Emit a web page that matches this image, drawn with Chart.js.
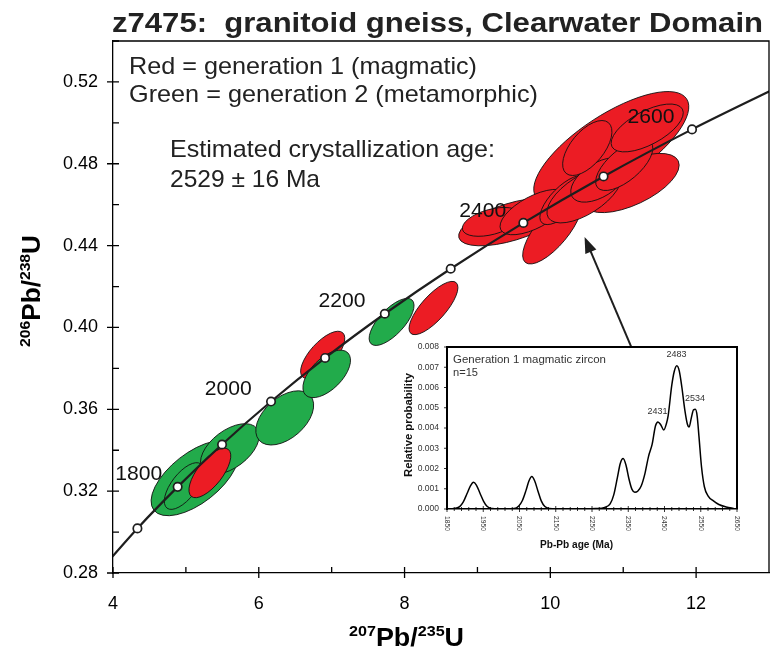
<!DOCTYPE html>
<html>
<head>
<meta charset="utf-8">
<script src="https://cdn.jsdelivr.net/npm/chart.js@4.4.1/dist/chart.umd.min.js"></script>
<style>
  html, body { margin: 0; padding: 0; background: #fff; }
  #wrap { position: relative; width: 772px; height: 650px; }
  #main { position: absolute; left: 0; top: 0; }
  #inset { position: absolute; left: 398px; top: 340px; }
</style>
</head>
<body>
<div id="wrap">
  <canvas id="main" width="772" height="650"></canvas>
  <canvas id="inset" width="350" height="220"></canvas>
</div>
<script>
const FONT = '"Liberation Sans", Arial, Helvetica, sans-serif';
const RED = '#ec1c24';
const GREEN = '#22ab4b';
const INK = '#1e1e1e';

// concordia points (Ma), 207Pb/235U and 206Pb/238U
const concAges = [1600, 1700, 1800, 1900, 2000, 2100, 2200, 2300, 2400, 2500, 2600, 2700];
const concX = [3.835, 4.335, 4.887, 5.496, 6.168, 6.910, 7.729, 8.633, 9.630, 10.730, 11.944, 13.284];
const concY = [0.2817, 0.3018, 0.3221, 0.3428, 0.3638, 0.3851, 0.4067, 0.4287, 0.4511, 0.4738, 0.4968, 0.5202];
const ageLabels = ['1800', '2000', '2200', '2400', '2600'];

// error ellipses: centre, end of the long half-axis, short/long ratio, generation
const ellX    = [5.123, 5.603, 4.973, 5.329, 6.356, 6.877, 6.932, 7.822, 8.397, 10.836, 9.466, 10.027, 11.110, 9.192, 9.781, 10.192, 10.466, 10.671, 10.507, 11.014, 11.329];
const ellY    = [0.3264, 0.3406, 0.3225, 0.3289, 0.3558, 0.3866, 0.3773, 0.4027, 0.4095, 0.4877, 0.4516, 0.4476, 0.4706, 0.4516, 0.4564, 0.4623, 0.4648, 0.4721, 0.4877, 0.4794, 0.4975];
const ellEndX = [5.685, 5.975, 5.205, 5.582, 6.708, 7.152, 7.222, 8.103, 8.708, 11.870, 10.186, 10.397, 11.755, 9.589, 10.241, 10.501, 10.959, 11.042, 10.797, 11.381, 11.812];
const ellEndY = [0.3421, 0.3506, 0.3333, 0.3404, 0.3667, 0.3974, 0.3876, 0.4134, 0.4219, 0.5117, 0.4594, 0.4634, 0.4814, 0.4554, 0.4651, 0.4734, 0.4760, 0.4804, 0.5001, 0.4904, 0.5067];
const ellRatio = [0.48, 0.55, 0.45, 0.42, 0.6, 0.42, 0.52, 0.42, 0.36, 0.37, 0.34, 0.38, 0.42, 0.42, 0.42, 0.42, 0.45, 0.53, 0.5, 0.45, 0.42];
const ellGen  = [2, 2, 2, 1, 2, 1, 2, 2, 1, 1, 1, 1, 1, 1, 1, 1, 1, 1, 1, 1, 1];

// inset: probability density of Pb-Pb ages
const probAge = [1850, 1870, 1885, 1895, 1905, 1915, 1923, 1931, 1941, 1951, 1961, 1975, 1990,
  2035, 2048, 2058, 2068, 2076, 2084, 2092, 2101, 2110, 2120, 2133, 2150,
  2230, 2260, 2285, 2300, 2310, 2320, 2328, 2336, 2344, 2352, 2360, 2368, 2376, 2386, 2396, 2406, 2416, 2425,
  2432, 2440, 2448, 2455, 2460, 2470, 2477, 2484, 2491, 2498, 2506, 2513, 2518, 2524, 2530, 2535, 2540,
  2545, 2552, 2560, 2570, 2585, 2600, 2620, 2640, 2650];
const probVal = [0, 0.00002, 0.00012, 0.00035, 0.00075, 0.00115, 0.00132, 0.00118, 0.00078, 0.00038, 0.00012, 0.00002, 0,
  0.00002, 0.00015, 0.00042, 0.00092, 0.00138, 0.0016, 0.00138, 0.00088, 0.0004, 0.00012, 0.00002, 0,
  0, 0.00002, 0.00008, 0.00025, 0.0007, 0.00155, 0.00225, 0.00249, 0.00215, 0.00148, 0.00098, 0.00083, 0.00088, 0.00115, 0.00175, 0.0026, 0.0032, 0.0041,
  0.0043, 0.00415, 0.0039, 0.0042, 0.0046, 0.0061, 0.0068, 0.00707, 0.0068, 0.006, 0.0049, 0.0042, 0.00405, 0.0045, 0.0049, 0.00492, 0.0046,
  0.0036, 0.0021, 0.0011, 0.00065, 0.0004, 0.00022, 0.0001, 0.00003, 0];
const insetTicks = [1850, 1950, 2050, 2150, 2250, 2350, 2450, 2550, 2650];
const peakLabels = ['2431', '2483', '2534'];

// annotation anchors (data coords)
const labelPos = [[4.03, 0.3255], [5.26, 0.367], [6.82, 0.410], [8.75, 0.454], [11.06, 0.500]];
const arrowFrom = [11.11, 0.3905];
const arrowTo = [10.47, 0.4442];

function fitText(ctx, text, x, y, size, weight, width, angle) {
  ctx.save();
  ctx.font = `${weight} ${size}px ${FONT}`;
  const w = ctx.measureText(text).width;
  ctx.translate(x, y);
  if (angle) ctx.rotate(angle);
  ctx.scale(width / w, 1);
  ctx.fillText(text, 0, 0);
  ctx.restore();
}

function isoLabel(ctx, parts, x, y, width, vertical) {
  ctx.save();
  ctx.translate(x, y);
  if (vertical) ctx.rotate(-Math.PI / 2);
  let total = 0;
  parts.forEach(p => {
    ctx.font = `bold ${p[1] ? 15 : 25}px ${FONT}`;
    total += ctx.measureText(p[0]).width;
  });
  ctx.scale(width / total, 1);
  let cx = 0;
  parts.forEach(p => {
    ctx.font = `bold ${p[1] ? 15 : 25}px ${FONT}`;
    ctx.fillText(p[0], cx, p[1] ? -10 : 0);
    cx += ctx.measureText(p[0]).width;
  });
  ctx.restore();
}

const ellipsePlugin = {
  id: 'ellipses',
  beforeDatasetsDraw(chart) {
    const { ctx, chartArea: ca, scales: { x, y } } = chart;
    ctx.save();
    ctx.beginPath();
    ctx.rect(ca.left, ca.top, ca.right - ca.left, ca.bottom - ca.top);
    ctx.clip();
    ellX.forEach((cx, i) => {
      const px = x.getPixelForValue(cx), py = y.getPixelForValue(ellY[i]);
      const ex = x.getPixelForValue(ellEndX[i]), ey = y.getPixelForValue(ellEndY[i]);
      const a = Math.hypot(ex - px, ey - py);
      ctx.beginPath();
      ctx.ellipse(px, py, a, a * ellRatio[i], Math.atan2(ey - py, ex - px), 0, Math.PI * 2);
      ctx.fillStyle = ellGen[i] === 1 ? RED : GREEN;
      ctx.fill();
      ctx.lineWidth = 0.9;
      ctx.strokeStyle = '#111';
      ctx.stroke();
    });
    ctx.restore();
  }
};

const decorPlugin = {
  id: 'decor',
  afterDraw(chart) {
    const { ctx, chartArea: ca, scales: { x, y } } = chart;
    ctx.save();
    ctx.strokeStyle = '#000';
    ctx.lineWidth = 1.3;
    ctx.beginPath();
    ctx.moveTo(ca.left, ca.top);
    ctx.lineTo(ca.right, ca.top);
    ctx.lineTo(ca.right, ca.bottom);
    ctx.stroke();

    // ticks
    ctx.beginPath();
    x.ticks.forEach(t => {
      if (t.value >= 13) return;
      const px = x.getPixelForValue(t.value);
      const major = t.value % 2 === 0;
      ctx.moveTo(px, ca.bottom - 6);
      ctx.lineTo(px, ca.bottom + (major ? 5 : 0));
    });
    y.ticks.forEach(t => {
      const py = y.getPixelForValue(t.value);
      const major = Math.round(t.value * 100) % 4 === 0;
      ctx.moveTo(ca.left + 6, py);
      ctx.lineTo(ca.left - (major ? 6 : 0), py);
    });
    ctx.stroke();

    // arrow to the inset
    const sx = x.getPixelForValue(arrowFrom[0]), sy = y.getPixelForValue(arrowFrom[1]);
    const tx = x.getPixelForValue(arrowTo[0]), ty = y.getPixelForValue(arrowTo[1]);
    const ang = Math.atan2(ty - sy, tx - sx);
    const dx = Math.cos(ang), dy = Math.sin(ang);
    ctx.strokeStyle = INK;
    ctx.lineWidth = 2;
    ctx.beginPath();
    ctx.moveTo(sx, sy);
    ctx.lineTo(tx - 12 * dx, ty - 12 * dy);
    ctx.stroke();
    ctx.fillStyle = INK;
    ctx.beginPath();
    ctx.moveTo(tx, ty);
    ctx.lineTo(tx - 16 * dx - 6 * dy, ty - 16 * dy + 6 * dx);
    ctx.lineTo(tx - 16 * dx + 6 * dy, ty - 16 * dy - 6 * dx);
    ctx.closePath();
    ctx.fill();

    // age labels on the concordia
    ctx.fillStyle = '#111';
    ctx.textBaseline = 'alphabetic';
    ageLabels.forEach((lab, i) => {
      fitText(ctx, lab, x.getPixelForValue(labelPos[i][0]), y.getPixelForValue(labelPos[i][1]), 21, 'normal', 47);
    });

    // texts
    ctx.fillStyle = '#222';
    fitText(ctx, 'z7475:  granitoid gneiss, Clearwater Domain', 112, 32, 28, 'bold', 651);
    fitText(ctx, 'Red = generation 1 (magmatic)', 129, 74, 24, 'normal', 348);
    fitText(ctx, 'Green = generation 2 (metamorphic)', 129, 102, 24, 'normal', 409);
    fitText(ctx, 'Estimated crystallization age:', 170, 157, 24, 'normal', 325);
    fitText(ctx, '2529 \u00b1 16 Ma', 170, 187, 24, 'normal', 150);

    // axis titles
    ctx.fillStyle = '#000';
    isoLabel(ctx, [['207', 1], ['Pb/', 0], ['235', 1], ['U', 0]], 349, 646, 115, false);
    isoLabel(ctx, [['206', 1], ['Pb/', 0], ['238', 1], ['U', 0]], 40, 347, 112, true);
    ctx.restore();
  }
};

new Chart(document.getElementById('main'), {
  type: 'scatter',
  data: {
    datasets: [{
      type: 'line',
      data: concX.map((v, i) => ({ x: v, y: concY[i] })),
      borderColor: INK,
      borderWidth: 2.2,
      pointRadius: concAges.map(a => (a < 1700 || a > 2600 ? 0 : 4.2)),
      pointBackgroundColor: '#fff',
      pointBorderColor: INK,
      pointBorderWidth: 1.7,
      cubicInterpolationMode: 'monotone',
      fill: false
    }]
  },
  options: {
    responsive: false,
    animation: false,
    layout: { padding: { top: 41, right: 3, left: 0, bottom: 0 } },
    plugins: { legend: { display: false }, tooltip: { enabled: false } },
    scales: {
      x: {
        type: 'linear', min: 4, max: 13,
        grid: { display: false, drawTicks: false },
        border: { color: '#000', width: 1.3 },
        ticks: {
          stepSize: 1, padding: 20, autoSkip: false, maxRotation: 0,
          color: '#000', font: { family: FONT, size: 18 },
          callback: v => (v % 2 === 0 && v < 13 ? String(v) : '')
        },
        afterFit: s => { s.height = 77; s.paddingLeft = 0; s.paddingRight = 0; }
      },
      y: {
        type: 'linear', min: 0.28, max: 0.54,
        grid: { display: false, drawTicks: false },
        border: { color: '#000', width: 1.3 },
        ticks: {
          stepSize: 0.02, padding: 15, autoSkip: false,
          color: '#000', font: { family: FONT, size: 18 },
          callback: v => (Math.round(v * 100) % 4 === 0 ? v.toFixed(2) : '')
        },
        afterFit: s => { s.width = 113; s.paddingTop = 0; s.paddingBottom = 0; }
      }
    }
  },
  plugins: [ellipsePlugin, decorPlugin]
});

// ---- inset ----
const insetDecor = {
  id: 'insetDecor',
  afterDraw(chart) {
    const { ctx, chartArea: ca, scales: { x, y } } = chart;
    ctx.save();
    ctx.strokeStyle = '#000';
    ctx.lineWidth = 2;
    ctx.beginPath();
    ctx.moveTo(ca.left, ca.top);
    ctx.lineTo(ca.right, ca.top);
    ctx.lineTo(ca.right, ca.bottom);
    ctx.stroke();

    ctx.lineWidth = 0.8;
    ctx.beginPath();
    for (let a = 1850; a <= 2650; a += 20) {
      const px = x.getPixelForValue(a);
      const major = insetTicks.includes(a);
      ctx.moveTo(px, ca.bottom - (major ? 3 : 2));
      ctx.lineTo(px, ca.bottom + (major ? 3 : 2));
    }
    for (let k = 0; k <= 8; k++) {
      const py = y.getPixelForValue(k / 1000);
      ctx.moveTo(ca.left - 3, py);
      ctx.lineTo(ca.left, py);
    }
    ctx.stroke();

    ctx.fillStyle = '#333';
    ctx.textBaseline = 'middle';
    insetTicks.forEach(a => {
      fitText(ctx, String(a), x.getPixelForValue(a), ca.bottom + 7, 8, 'normal', 15, Math.PI / 2);
    });
    ctx.textAlign = 'right';
    for (let k = 0; k <= 8; k++) {
      ctx.font = `8.5px ${FONT}`;
      ctx.fillText((k / 1000).toFixed(3), ca.left - 8, y.getPixelForValue(k / 1000));
    }
    ctx.textAlign = 'left';
    ctx.textBaseline = 'alphabetic';

    ctx.fillStyle = '#111';
    fitText(ctx, 'Relative probability', 14, 137, 11, 'bold', 104, -Math.PI / 2);
    fitText(ctx, 'Pb-Pb age (Ma)', 142, 208, 11, 'bold', 73);

    ctx.fillStyle = '#333';
    fitText(ctx, 'Generation 1 magmatic zircon', 55, 23, 11.5, 'normal', 153);
    fitText(ctx, 'n=15', 55, 36, 11.5, 'normal', 25);
    const peakPos = [[2431, 0.00468], [2483, 0.0075], [2534, 0.00535]];
    peakLabels.forEach((lab, i) => {
      const px = x.getPixelForValue(peakPos[i][0]) - 10;
      fitText(ctx, lab, px, y.getPixelForValue(peakPos[i][1]), 9.5, 'normal', 20);
    });
    ctx.restore();
  }
};

new Chart(document.getElementById('inset'), {
  type: 'line',
  data: {
    datasets: [{
      data: probAge.map((a, i) => ({ x: a, y: probVal[i] })),
      borderColor: '#000',
      borderWidth: 1.5,
      pointRadius: 0,
      cubicInterpolationMode: 'monotone',
      fill: false
    }]
  },
  options: {
    responsive: false,
    animation: false,
    layout: { padding: { top: 7, right: 11, left: 0, bottom: 0 } },
    plugins: { legend: { display: false }, tooltip: { enabled: false } },
    scales: {
      x: {
        type: 'linear', min: 1850, max: 2650,
        grid: { display: false, drawTicks: false },
        border: { color: '#000', width: 1.5 },
        ticks: { display: false },
        afterFit: s => { s.height = 51; s.paddingLeft = 0; s.paddingRight = 0; }
      },
      y: {
        type: 'linear', min: 0, max: 0.008,
        grid: { display: false, drawTicks: false },
        border: { color: '#000', width: 2 },
        ticks: { display: false },
        afterFit: s => { s.width = 49; }
      }
    }
  },
  plugins: [insetDecor]
});
</script>
</body>
</html>
